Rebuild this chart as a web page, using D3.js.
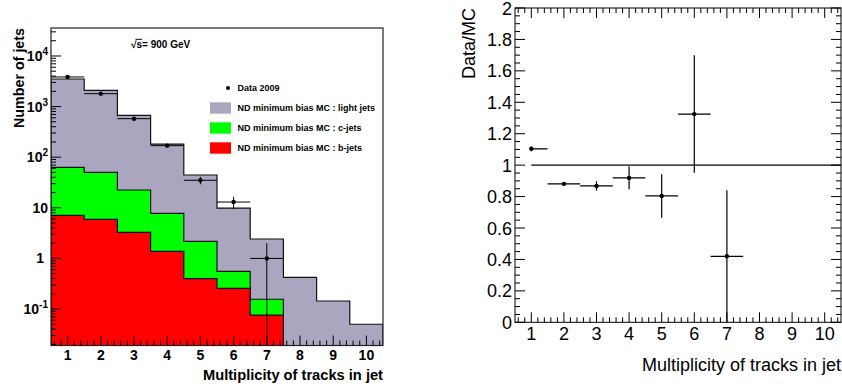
<!DOCTYPE html>
<html>
<head>
<meta charset="utf-8">
<script src="https://cdn.jsdelivr.net/npm/d3@7"></script>
<style>
  html, body { margin: 0; padding: 0; background: #fff; }
  svg { display: block; font-family: "Liberation Sans", Arial, Helvetica, sans-serif; }
</style>
</head>
<body>
<svg id="chart" width="842" height="387"></svg>
<script>
// ---------------- data ----------------
const bins = [1, 2, 3, 4, 5, 6, 7, 8, 9, 10];
const lightJets = [3447, 2050, 650, 174, 42.3, 9.3, 2.26, 0.42, 0.144, 0.05];
const cJets = [55.9, 44.1, 19.2, 6.4, 1.78, 0.30, 0.08, 0, 0, 0];
const bJets = [7.1, 5.9, 3.28, 1.38, 0.40, 0.256, 0.076, 0, 0, 0];
const dataBins = [1, 2, 3, 4, 5, 6, 7];
const dataCounts = [3850, 1800, 577, 169, 35, 13, 1];
const dataErrors = [62, 42, 24, 13, 5.9, 3.6, 1];
const ratioValues = [1.104, 0.881, 0.868, 0.919, 0.804, 1.325, 0.42];
const ratioErrors = [0.015, 0.012, 0.029, 0.072, 0.138, 0.374, 0.42];
const ratioXErrLow = [0, 0.5, 0.5, 0.5, 0.5, 0.5, 0.5];
const ratioXErrHigh = [0.5, 0.5, 0.5, 0.5, 0.5, 0.5, 0.5];
const xTickLabels = ["1", "2", "3", "4", "5", "6", "7", "8", "9", "10"];
const logTickLabels = [{e: -1}, {v: "1"}, {v: "10"}, {e: 2}, {e: 3}, {e: 4}];
const ratioTickLabels = ["0", "0.2", "0.4", "0.6", "0.8", "1", "1.2", "1.4", "1.6", "1.8", "2"];
const legendLabels = ["Data 2009", "ND minimum bias MC : light jets", "ND minimum bias MC : c-jets", "ND minimum bias MC : b-jets"];
const colors = { light: "#aaa6c0", c: "#00ff00", b: "#ff0000" };

const svg = d3.select("#chart");

// ================= LEFT PANEL =================
const L = { x0: 51, x1: 383, y0: 28, y1: 345.5 };
const xL = d3.scaleLinear().domain([0.5, 10.5]).range([L.x0, L.x1]);
const yL = d3.scaleLog().domain([Math.pow(10, -1.721), Math.pow(10, 4.553)]).range([L.y1, L.y0]);

svg.append("defs").append("clipPath").attr("id", "clipL")
  .append("rect").attr("x", L.x0).attr("y", L.y0).attr("width", L.x1 - L.x0).attr("height", L.y1 - L.y0);

const gL = svg.append("g").attr("clip-path", "url(#clipL)");

function stepPath(totals) {
  let n = 0;
  while (n < totals.length && totals[n] > 0) n++;
  const bottom = L.y1 + 2;
  let d = `M${xL(bins[0] - 0.5)},${bottom}`;
  for (let i = 0; i < n; i++) {
    d += `L${xL(bins[i] - 0.5)},${yL(totals[i])}L${xL(bins[i] + 0.5)},${yL(totals[i])}`;
  }
  d += `L${xL(bins[n - 1] + 0.5)},${bottom}Z`;
  return d;
}
const totalAll = bins.map((_, i) => lightJets[i] + cJets[i] + bJets[i]);
const totalCB = bins.map((_, i) => cJets[i] + bJets[i]);
const layers = [
  { vals: totalAll, color: colors.light },
  { vals: totalCB, color: colors.c },
  { vals: bJets, color: colors.b }
];
gL.selectAll("path.layer").data(layers).enter().append("path")
  .attr("class", "layer")
  .attr("d", d => stepPath(d.vals))
  .attr("fill", d => d.color)
  .attr("stroke", "#111").attr("stroke-width", 1.2);

// data points
const gD = gL.append("g");
dataBins.forEach((b, i) => {
  const v = dataCounts[i], e = dataErrors[i];
  const yc = yL(v);
  const yHi = yL(v + e);
  const yLo = (v - e) > 0 ? yL(v - e) : L.y1 + 5;
  gD.append("line").attr("x1", xL(b - 0.5)).attr("x2", xL(b + 0.5)).attr("y1", yc).attr("y2", yc)
    .attr("stroke", "#000").attr("stroke-width", 1);
  gD.append("line").attr("x1", xL(b)).attr("x2", xL(b)).attr("y1", yHi).attr("y2", yLo)
    .attr("stroke", "#000").attr("stroke-width", 1);
  gD.append("circle").attr("cx", xL(b)).attr("cy", yc).attr("r", 2.2).attr("fill", "#000");
});

// frame
svg.append("rect").attr("x", L.x0).attr("y", L.y0).attr("width", L.x1 - L.x0).attr("height", L.y1 - L.y0)
  .attr("fill", "none").attr("stroke", "#222").attr("stroke-width", 1.2);

// y log ticks
const gTicksL = svg.append("g").attr("stroke", "#000").attr("stroke-width", 1);
const logMin = yL.domain()[0], logMax = yL.domain()[1];
for (let p = -2; p <= 4; p++) {
  for (let m = 1; m <= 9; m++) {
    const v = m * Math.pow(10, p);
    if (v < logMin || v > logMax) continue;
    const len = m === 1 ? 10 : 5;
    gTicksL.append("line").attr("x1", L.x0).attr("x2", L.x0 + len)
      .attr("y1", yL(v)).attr("y2", yL(v));
  }
}
// x ticks
for (let t = 0.6; t <= 10.41; t += 0.2) {
  const r = Math.round(t * 10) / 10;
  const major = Math.abs(r - Math.round(r)) < 1e-6;
  gTicksL.append("line").attr("x1", xL(r)).attr("x2", xL(r))
    .attr("y1", L.y1).attr("y2", L.y1 - (major ? 10 : 5));
}

// x tick labels
svg.append("g").selectAll("text").data(bins).enter().append("text")
  .attr("x", d => xL(d)).attr("y", 360)
  .attr("text-anchor", "middle").attr("font-weight", "bold").attr("font-size", 14)
  .text((d, i) => xTickLabels[i]);

// y tick labels
const decadeVals = [0.1, 1, 10, 100, 1000, 10000];
logTickLabels.forEach((lab, i) => {
  const y = yL(decadeVals[i]);
  const t = svg.append("text").attr("font-weight", "bold").attr("font-size", 14)
    .attr("y", y + 5).attr("text-anchor", "end");
  if (lab.v !== undefined) {
    t.attr("x", lab.v === "1" ? 44 : 48).text(lab.v);
  } else {
    t.attr("x", 48);
    t.append("tspan").text("10");
    t.append("tspan").attr("font-size", 10).attr("dy", -6).text(String(lab.e));
  }
});

// axis titles
svg.append("text").attr("transform", "translate(24,28) rotate(-90)")
  .attr("text-anchor", "end").attr("font-weight", "bold").attr("font-size", 15)
  .attr("textLength", 100).attr("lengthAdjust", "spacingAndGlyphs")
  .text("Number of jets");
svg.append("text").attr("x", 383).attr("y", 380)
  .attr("text-anchor", "end").attr("font-weight", "bold").attr("font-size", 14.5)
  .attr("textLength", 180).attr("lengthAdjust", "spacingAndGlyphs")
  .text("Multiplicity of tracks in jet");

// sqrt(s) label
const sq = svg.append("text").attr("x", 131).attr("y", 47.5).attr("font-weight", "bold").attr("font-size", 10);
sq.text("√s= 900 GeV");
{
  const node = sq.node();
  const sx0 = node.getStartPositionOfChar(1).x, sx1 = node.getEndPositionOfChar(1).x;
  svg.append("line").attr("x1", sx0 - 1).attr("x2", sx1).attr("y1", 39.3).attr("y2", 39.3)
    .attr("stroke", "#000").attr("stroke-width", 1);
}

// legend
const leg = svg.append("g");
leg.append("circle").attr("cx", 228).attr("cy", 88).attr("r", 2).attr("fill", "#000");
leg.append("text").attr("x", 237.5).attr("y", 91.2).attr("font-weight", "bold").attr("font-size", 9).text(legendLabels[0]);
[colors.light, colors.c, colors.b].forEach((c, i) => {
  const cy = 108 + i * 20;
  leg.append("rect").attr("x", 210).attr("y", cy - 5.7).attr("width", 21).attr("height", 11.4).attr("fill", c);
  leg.append("text").attr("x", 237.5).attr("y", cy + 3.2).attr("font-weight", "bold").attr("font-size", 9).text(legendLabels[i + 1]);
});

// ================= RIGHT PANEL =================
const R = { x0: 515, x1: 841, y0: 8, y1: 322.3 };
const xR = d3.scaleLinear().domain([0.5, 10.5]).range([R.x0, R.x1]);
const yR = d3.scaleLinear().domain([0, 2]).range([R.y1, R.y0]);

svg.append("defs").append("clipPath").attr("id", "clipR")
  .append("rect").attr("x", R.x0).attr("y", R.y0).attr("width", R.x1 - R.x0).attr("height", R.y1 - R.y0);

svg.append("rect").attr("x", R.x0).attr("y", R.y0).attr("width", R.x1 - R.x0).attr("height", R.y1 - R.y0)
  .attr("fill", "none").attr("stroke", "#000").attr("stroke-width", 1);

const gTR = svg.append("g").attr("stroke", "#000").attr("stroke-width", 1);
for (let k = 0; k <= 40; k++) {
  const v = k * 0.05;
  const major = k % 4 === 0;
  const len = major ? 10 : 5;
  gTR.append("line").attr("x1", R.x0).attr("x2", R.x0 + len).attr("y1", yR(v)).attr("y2", yR(v));
  gTR.append("line").attr("x1", R.x1).attr("x2", R.x1 - len).attr("y1", yR(v)).attr("y2", yR(v));
}
for (let k = 3; k <= 52; k++) {
  const v = k * 0.2;
  if (v > 10.5) break;
  const major = k % 5 === 0;
  const len = major ? 10 : 5;
  gTR.append("line").attr("x1", xR(v)).attr("x2", xR(v)).attr("y1", R.y1).attr("y2", R.y1 - len);
  gTR.append("line").attr("x1", xR(v)).attr("x2", xR(v)).attr("y1", R.y0).attr("y2", R.y0 + len);
}

// reference line at 1
svg.append("line").attr("x1", xR(1)).attr("x2", xR(10.5)).attr("y1", yR(1)).attr("y2", yR(1))
  .attr("stroke", "#000").attr("stroke-width", 1.2);

// ratio points
const gRp = svg.append("g").attr("clip-path", "url(#clipR)");
dataBins.forEach((b, i) => {
  const v = ratioValues[i], e = ratioErrors[i];
  gRp.append("line").attr("x1", xR(b - ratioXErrLow[i])).attr("x2", xR(b + ratioXErrHigh[i]))
    .attr("y1", yR(v)).attr("y2", yR(v)).attr("stroke", "#000").attr("stroke-width", 1.2);
  gRp.append("line").attr("x1", xR(b)).attr("x2", xR(b)).attr("y1", yR(v + e)).attr("y2", yR(Math.max(v - e, -0.1)))
    .attr("stroke", "#000").attr("stroke-width", 1.2);
  gRp.append("circle").attr("cx", xR(b)).attr("cy", yR(v)).attr("r", 2.2).attr("fill", "#000");
});

// tick labels
svg.append("g").selectAll("text").data(ratioTickLabels).enter().append("text")
  .attr("x", 512).attr("y", (d, i) => yR(i * 0.2) + 6.5)
  .attr("text-anchor", "end").attr("font-size", 18).attr("fill", "#000")
  .text(d => d);
svg.append("g").selectAll("text").data(bins).enter().append("text")
  .attr("x", d => xR(d)).attr("y", 340)
  .attr("text-anchor", "middle").attr("font-size", 18)
  .text((d, i) => xTickLabels[i]);

svg.append("text").attr("transform", "translate(475,8) rotate(-90)")
  .attr("text-anchor", "end").attr("font-size", 18).text("Data/MC");
svg.append("text").attr("x", 841).attr("y", 371)
  .attr("text-anchor", "end").attr("font-size", 18).text("Multiplicity of tracks in jet");
</script>
</body>
</html>
